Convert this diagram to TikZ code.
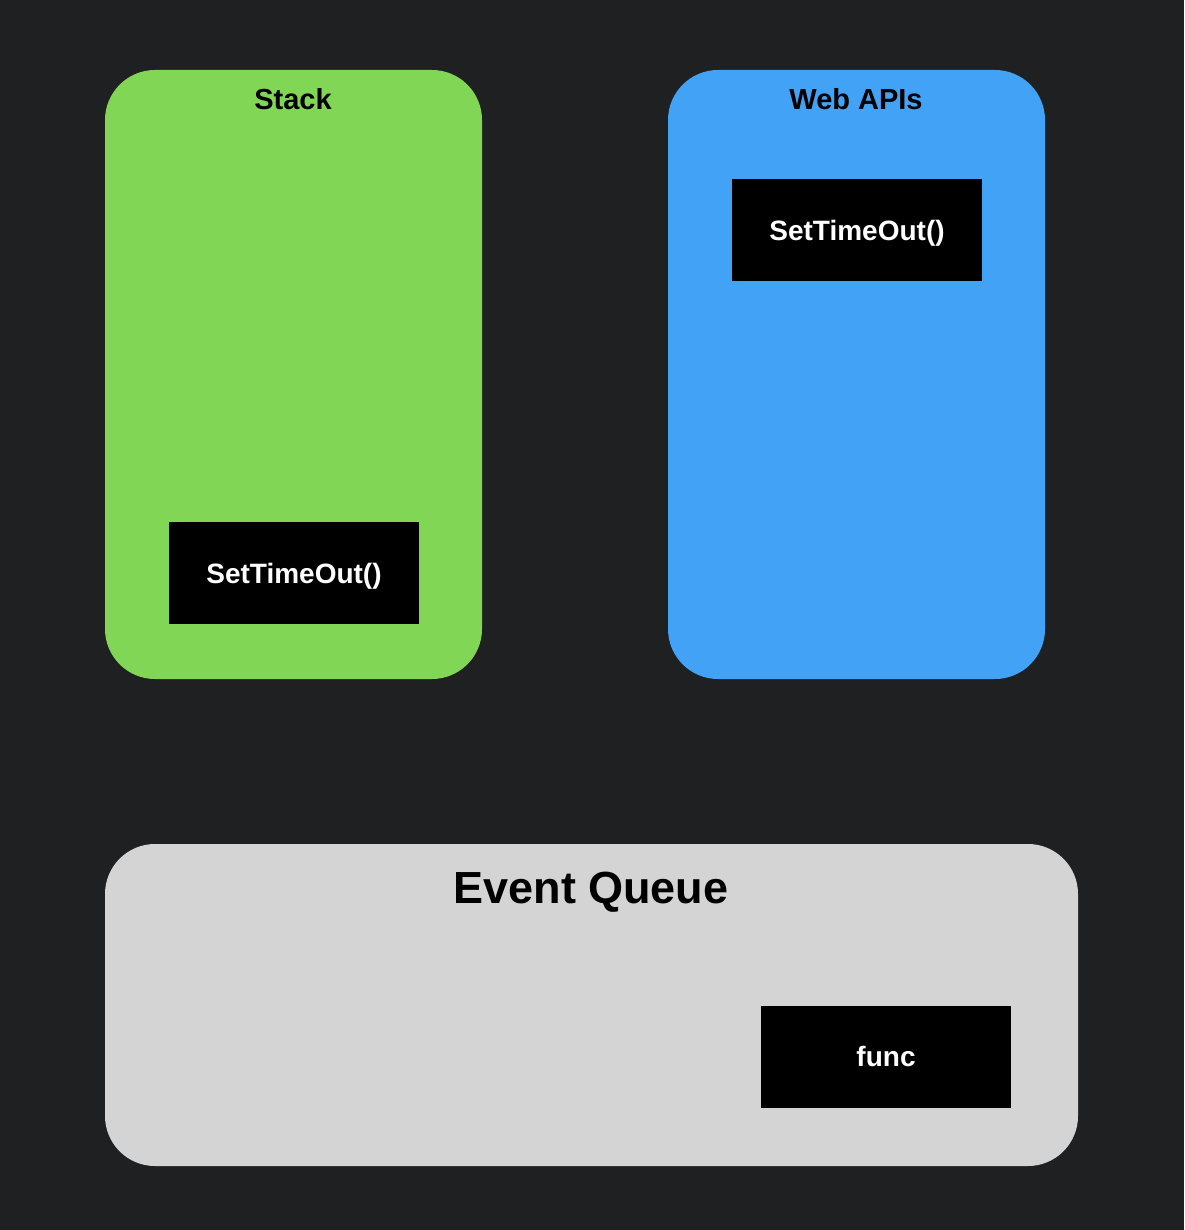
\documentclass[tikz,border=0pt]{standalone}
\usepackage{fontspec}
\setmainfont{Liberation Sans}
\definecolor{bgdark}{RGB}{31,32,34}
\definecolor{stackgreen}{RGB}{130,214,86}
\definecolor{apiblue}{RGB}{66,162,246}
\definecolor{queuegray}{RGB}{212,212,212}
\begin{document}
\begin{tikzpicture}[x=1pt,y=-1pt,
  panel/.style={rounded corners=50pt},
  title/.style={anchor=base,font=\fontsize{29}{34}\selectfont\bfseries,text=black},
  bigtitle/.style={anchor=base,font=\fontsize{45}{52}\selectfont\bfseries,text=black},
  callbox/.style={fill=black,text=white,minimum width=250pt,minimum height=102pt,
    inner sep=0pt,text depth=0pt,font=\fontsize{28}{32}\selectfont\bfseries}]
  % background
  \fill[bgdark] (0,0) rectangle (1184,1230);
  \useasboundingbox (0,0) rectangle (1184,1230);
  % panels
  \fill[stackgreen,panel] (105,70) rectangle (482,679);
  \fill[apiblue,panel] (668,70) rectangle (1045,679);
  \fill[queuegray,panel] (105,844) rectangle (1078,1166);
  % titles
  \node[title] (stacktitle) at (293,110) {Stack};
  \node[title] (apititle) at (856,110) {Web APIs};
  \node[bigtitle] (queuetitle) at (591,903) {Event Queue};
  % calls
  \node[callbox] (stackcall) at (294,573) {SetTimeOut()};
  \node[callbox] (apicall) at (857,230) {SetTimeOut()};
  \node[callbox] (func) at (886,1056.5) {func};
\end{tikzpicture}
\end{document}
